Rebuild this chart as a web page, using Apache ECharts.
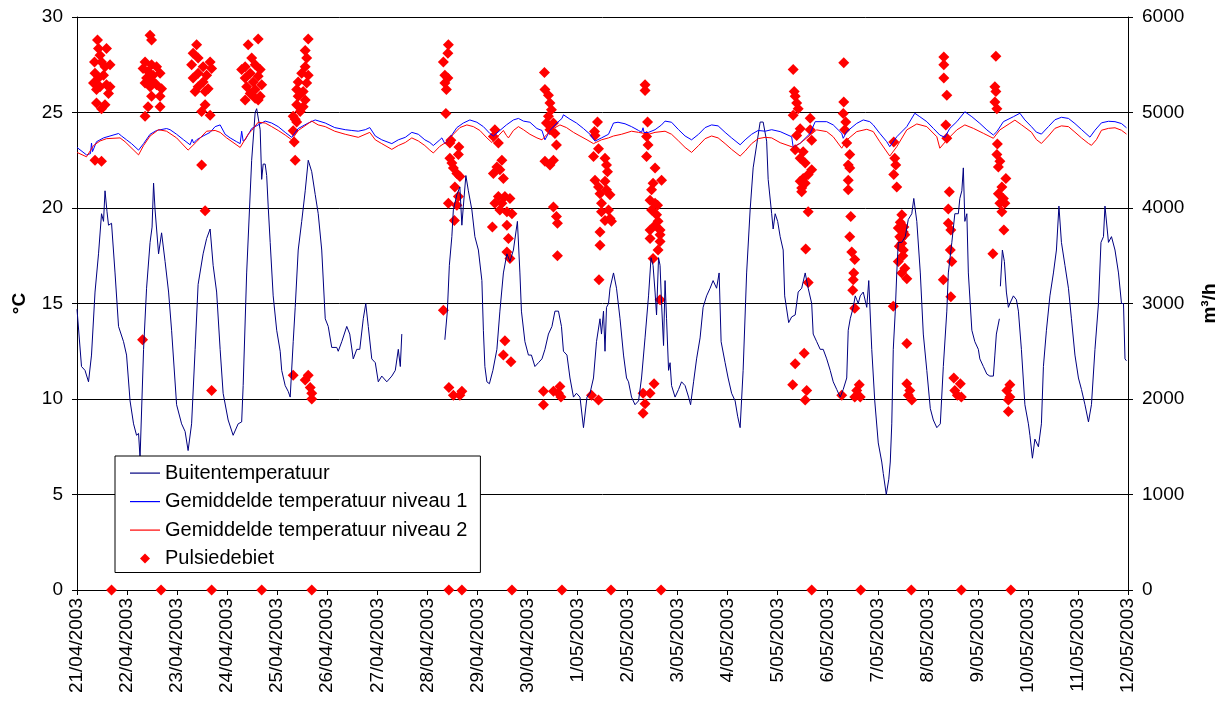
<!DOCTYPE html>
<html>
<head>
<meta charset="utf-8">
<script src="https://cdn.jsdelivr.net/npm/echarts@6/dist/echarts.min.js"></script>
<style>
html,body{margin:0;padding:0;background:#fff;}
#chart{width:1229px;height:709px;}
</style>
</head>
<body>
<div id="chart"></div>
<script>
// x values are days since 21/04/2003 00:00
const tickLabels = ["21/04/2003","22/04/2003","23/04/2003","24/04/2003","25/04/2003","26/04/2003","27/04/2003","28/04/2003","29/04/2003","30/04/2003","1/05/2003","2/05/2003","3/05/2003","4/05/2003","5/05/2003","6/05/2003","7/05/2003","8/05/2003","9/05/2003","10/05/2003","11/05/2003","12/05/2003"];

const seriesNames = ["Buitentemperatuur","Gemiddelde temperatuur niveau 1","Gemiddelde temperatuur niveau 2","Pulsiedebiet"];
const seriesColors = ["#000080","#0000FF","#FF0000","#FF0000"];

const outdoorTemp = [[0,14.7],[0.09,11.7],[0.16,11.5],[0.23,10.9],[0.29,12.3],[0.36,15.6],[0.43,17.6],[0.49,19.7],[0.53,19.3],[0.56,20.9],[0.60,19.8],[0.63,19.1],[0.69,19.2],[0.76,16.6],[0.83,13.8],[0.93,13.0],[0.99,12.3],[1.06,9.9],[1.13,8.7],[1.19,8.1],[1.23,8.2],[1.26,6.9],[1.33,12.6],[1.39,15.8],[1.46,18.2],[1.50,19.0],[1.53,21.3],[1.56,19.9],[1.63,17.6],[1.69,18.7],[1.76,17.2],[1.83,15.6],[1.89,13.6],[1.99,9.7],[2.09,8.7],[2.16,8.3],[2.22,7.3],[2.29,8.7],[2.36,12.6],[2.42,16.0],[2.52,17.6],[2.59,18.4],[2.66,18.9],[2.72,17.0],[2.79,15.6],[2.86,12.6],[2.92,10.3],[3.02,8.9],[3.12,8.1],[3.22,8.7],[3.29,8.8],[3.32,10.7],[3.39,16.6],[3.49,22.5],[3.56,25.0],[3.59,25.2],[3.66,24.1],[3.69,21.5],[3.72,22.3],[3.76,22.3],[3.79,21.7],[3.82,20.1],[3.86,18.2],[3.92,15.4],[3.99,13.6],[4.06,12.5],[4.09,11.5],[4.16,10.7],[4.22,10.4],[4.26,10.1],[4.32,13.0],[4.36,14.8],[4.42,17.8],[4.49,19.3],[4.56,20.9],[4.62,22.5],[4.69,21.9],[4.76,20.7],[4.82,19.7],[4.89,17.8],[4.96,14.2],[5.02,13.8],[5.09,12.7],[5.19,12.7],[5.22,12.5],[5.29,13.0],[5.39,13.8],[5.45,13.4],[5.52,12.1],[5.59,12.6],[5.65,12.6],[5.72,14.2],[5.77,15.0],[5.82,13.8],[5.89,12.1],[5.96,11.9],[6.02,10.9],[6.09,11.2],[6.19,10.9],[6.29,11.2],[6.36,11.5],[6.42,12.6],[6.46,11.7],[6.49,13.4],[6.9,'-'],[7.35,13.1],[7.40,14.6],[7.44,17.0],[7.49,18.5],[7.52,19.9],[7.59,20.7],[7.65,21.1],[7.69,19.1],[7.72,20.1],[7.77,21.7],[7.82,20.9],[7.89,19.9],[7.95,18.5],[8.02,17.8],[8.09,16.2],[8.12,13.6],[8.15,11.7],[8.19,10.9],[8.24,10.8],[8.31,11.5],[8.39,12.6],[8.45,14.6],[8.52,16.6],[8.59,17.6],[8.65,17.2],[8.72,17.8],[8.80,19.3],[8.85,16.6],[8.88,14.6],[8.95,13.0],[9.02,12.3],[9.08,12.3],[9.15,11.7],[9.22,11.9],[9.29,12.1],[9.35,12.6],[9.42,13.4],[9.49,13.8],[9.55,14.6],[9.62,14.6],[9.68,13.8],[9.72,12.5],[9.79,12.3],[9.85,11.1],[9.92,10.1],[9.98,10.3],[10.05,10.1],[10.12,8.5],[10.19,10.1],[10.25,10.3],[10.32,11.1],[10.38,13.0],[10.45,14.2],[10.48,13.4],[10.52,14.6],[10.55,12.5],[10.58,14.8],[10.62,15.0],[10.65,15.8],[10.72,16.6],[10.78,15.8],[10.85,14.2],[10.92,12.3],[10.98,11.1],[11.02,10.9],[11.08,10.1],[11.15,9.7],[11.22,9.9],[11.28,11.1],[11.35,13.2],[11.42,15.4],[11.47,17.4],[11.51,17.0],[11.55,15.6],[11.58,14.4],[11.62,17.4],[11.65,17.0],[11.68,15.0],[11.72,12.8],[11.75,16.2],[11.78,14.2],[11.82,11.5],[11.85,11.9],[11.88,10.7],[11.95,10.1],[12.02,10.5],[12.08,10.9],[12.15,10.7],[12.22,10.1],[12.26,9.7],[12.32,10.9],[12.38,12.1],[12.45,13.2],[12.51,14.8],[12.58,15.4],[12.65,15.8],[12.71,16.2],[12.78,15.8],[12.83,16.6],[12.87,13.0],[12.95,11.9],[13.01,11.1],[13.08,10.3],[13.15,9.9],[13.20,9.1],[13.25,8.5],[13.31,11.5],[13.38,16.6],[13.45,19.9],[13.51,22.1],[13.58,23.3],[13.65,24.5],[13.71,24.5],[13.78,23.5],[13.81,21.5],[13.88,19.7],[13.91,18.9],[13.95,19.7],[14.00,19.3],[14.05,18.5],[14.11,17.8],[14.14,15.4],[14.22,14.0],[14.28,14.3],[14.35,14.4],[14.41,15.6],[14.48,15.8],[14.55,16.6],[14.61,15.8],[14.68,15.0],[14.71,13.4],[14.78,13.0],[14.85,12.6],[14.91,12.6],[14.98,12.1],[15.05,11.5],[15.11,10.9],[15.18,10.5],[15.25,10.1],[15.31,10.5],[15.38,11.1],[15.41,13.6],[15.45,14.2],[15.51,14.8],[15.55,15.4],[15.58,15.2],[15.61,15.0],[15.65,15.4],[15.71,15.6],[15.78,14.8],[15.82,16.2],[15.88,12.6],[15.94,9.9],[16.01,7.7],[16.08,6.7],[16.11,6.1],[16.17,5.0],[16.22,5.8],[16.25,6.7],[16.28,8.7],[16.31,12.6],[16.35,14.6],[16.38,16.6],[16.41,18.2],[16.48,18.2],[16.55,18.5],[16.61,19.4],[16.68,19.7],[16.72,20.5],[16.78,19.3],[16.85,16.6],[16.91,13.4],[16.98,11.5],[17.05,9.5],[17.11,8.9],[17.18,8.5],[17.25,8.7],[17.31,11.7],[17.38,14.6],[17.41,16.6],[17.48,18.2],[17.54,19.7],[17.61,19.7],[17.64,20.5],[17.68,20.9],[17.71,22.1],[17.74,19.3],[17.78,19.7],[17.81,16.6],[17.88,13.6],[17.94,13.0],[18.01,12.6],[18.04,12.1],[18.11,11.7],[18.18,11.3],[18.24,11.2],[18.31,11.2],[18.34,12.3],[18.37,13.4],[18.43,14.2],[18.44,'-'],[18.45,15.9],[18.49,17.8],[18.53,17.2],[18.57,15.6],[18.61,14.8],[18.64,15.0],[18.71,15.4],[18.77,15.2],[18.81,14.6],[18.87,12.6],[18.94,9.7],[19.01,8.7],[19.04,8.1],[19.09,6.9],[19.14,7.9],[19.21,7.5],[19.27,8.7],[19.31,11.7],[19.37,13.6],[19.44,15.4],[19.51,16.6],[19.57,17.8],[19.62,20.1],[19.67,18.2],[19.74,17.0],[19.81,15.8],[19.87,14.2],[19.94,12.3],[20.01,11.1],[20.07,10.5],[20.14,9.7],[20.21,8.8],[20.27,9.7],[20.34,12.6],[20.41,15.0],[20.46,18.2],[20.51,18.5],[20.54,20.1],[20.61,18.2],[20.67,18.5],[20.74,17.8],[20.81,16.6],[20.87,15.0],[20.91,15.0],[20.94,12.1],[20.97,12.0]];

const level1Temp = [[0,23.17],[0.19,22.78],[0.27,22.85],[0.29,23.4],[0.31,22.95],[0.39,23.47],[0.53,23.67],[0.66,23.77],[0.83,23.9],[0.89,23.77],[0.99,23.57],[1.09,23.37],[1.23,23.03],[1.33,23.37],[1.46,23.86],[1.59,24.06],[1.79,24.16],[1.86,24.1],[1.99,23.86],[2.13,23.57],[2.26,23.31],[2.30,23.6],[2.33,23.4],[2.39,23.57],[2.52,23.77],[2.66,23.96],[2.76,24.26],[2.86,24.35],[2.96,23.86],[3.06,23.67],[3.19,23.47],[3.26,23.37],[3.29,24.02],[3.32,23.5],[3.36,23.57],[3.49,24.16],[3.62,24.35],[3.76,24.55],[3.89,24.45],[4.02,24.26],[4.16,23.96],[4.29,23.7],[4.42,24.16],[4.62,24.45],[4.76,24.61],[4.96,24.45],[5.15,24.21],[5.36,24.1],[5.49,24.06],[5.62,24.02],[5.76,24.1],[5.85,24.21],[5.96,23.77],[6.09,23.57],[6.29,23.37],[6.42,23.57],[6.56,23.7],[6.69,23.96],[6.82,23.86],[6.95,23.57],[7.05,23.43],[7.12,23.27],[7.25,23.57],[7.29,23.67],[7.35,23.37],[7.45,23.67],[7.59,24.21],[7.72,24.45],[7.85,24.61],[7.99,24.49],[8.12,24.26],[8.25,23.9],[8.32,23.77],[8.45,24.06],[8.58,24.35],[8.72,24.61],[8.82,24.69],[8.92,24.55],[9.05,24.49],[9.19,24.16],[9.29,24.06],[9.35,23.57],[9.45,24.06],[9.59,24.45],[9.69,24.69],[9.72,24.88],[9.85,24.65],[9.98,24.45],[10.12,24.16],[10.25,23.86],[10.35,23.5],[10.48,23.67],[10.62,23.86],[10.72,24.45],[10.81,24.49],[10.95,24.41],[11.08,24.26],[11.22,24.06],[11.28,23.96],[11.31,24.2],[11.33,23.95],[11.42,23.96],[11.55,24.1],[11.68,24.35],[11.75,24.55],[11.88,24.49],[12.02,24.1],[12.15,23.77],[12.28,23.57],[12.42,23.86],[12.55,24.21],[12.68,24.35],[12.81,24.3],[12.95,23.96],[13.08,23.67],[13.25,23.31],[13.35,23.57],[13.48,23.86],[13.61,24.06],[13.75,24.02],[13.88,24.1],[14.05,24.0],[14.28,23.73],[14.31,23.18],[14.45,23.39],[14.65,23.91],[14.75,24.52],[14.98,24.52],[15.11,24.35],[15.21,24.09],[15.28,23.91],[15.31,23.65],[15.38,24.0],[15.58,24.43],[15.71,24.61],[15.84,24.52],[15.91,24.35],[16.04,23.91],[16.18,23.47],[16.24,23.21],[16.38,23.73],[16.58,24.26],[16.74,24.96],[16.84,24.78],[16.98,24.52],[17.11,24.17],[17.24,23.82],[17.34,23.7],[17.44,24.17],[17.58,24.52],[17.74,25.04],[17.88,24.78],[18.04,24.43],[18.18,24.09],[18.31,23.82],[18.38,24.0],[18.51,24.52],[18.71,24.78],[18.84,24.96],[18.94,24.61],[19.07,24.26],[19.17,23.97],[19.27,23.87],[19.41,24.26],[19.54,24.62],[19.67,24.75],[19.81,24.69],[19.94,24.42],[20.07,24.11],[20.24,23.71],[20.34,24.07],[20.47,24.46],[20.61,24.54],[20.74,24.52],[20.87,24.42],[20.97,24.2]];

const level2Temp = [[0,22.91],[0.19,22.68],[0.33,23.27],[0.46,23.51],[0.59,23.63],[0.86,23.67],[0.96,23.47],[1.23,22.78],[1.33,23.27],[1.46,23.77],[1.63,24.1],[1.79,24.02],[1.99,23.67],[2.22,23.03],[2.39,23.47],[2.59,24.02],[2.76,24.06],[2.86,23.96],[2.99,23.67],[3.26,23.17],[3.42,23.86],[3.49,24.06],[3.62,24.49],[3.76,24.45],[3.89,24.26],[4.02,24.06],[4.16,23.82],[4.29,23.57],[4.42,24.06],[4.69,24.55],[4.82,24.35],[4.96,24.26],[5.15,24.02],[5.36,23.86],[5.62,23.7],[5.85,23.96],[5.96,23.57],[6.09,23.37],[6.29,23.07],[6.42,23.27],[6.56,23.43],[6.69,23.67],[6.82,23.51],[6.95,23.27],[7.05,23.03],[7.12,22.88],[7.25,23.23],[7.39,23.47],[7.52,23.86],[7.65,24.21],[7.79,24.35],[7.92,24.26],[8.05,24.06],[8.19,23.67],[8.29,23.43],[8.39,23.7],[8.52,24.06],[8.58,23.8],[8.62,23.67],[8.72,24.06],[8.82,24.26],[8.92,24.1],[9.05,23.86],[9.19,23.67],[9.29,23.57],[9.39,23.86],[9.52,24.16],[9.65,24.35],[9.78,24.21],[9.92,23.96],[10.05,23.77],[10.19,23.57],[10.32,23.37],[10.48,23.57],[10.62,23.67],[10.72,23.77],[10.88,23.86],[11.08,24.02],[11.22,23.96],[11.42,23.86],[11.55,23.96],[11.75,24.02],[11.88,23.86],[12.02,23.51],[12.15,23.17],[12.28,22.91],[12.42,23.27],[12.55,23.63],[12.68,23.77],[12.81,23.67],[12.95,23.37],[13.08,23.07],[13.25,22.72],[13.35,22.98],[13.48,23.37],[13.61,23.63],[13.75,23.7],[13.88,23.67],[14.05,23.42],[14.31,23.18],[14.45,23.39],[14.65,23.82],[14.78,24.09],[14.98,24.0],[15.11,23.73],[15.28,23.13],[15.38,23.56],[15.58,24.0],[15.78,24.12],[15.91,24.0],[16.04,23.47],[16.24,22.72],[16.38,23.21],[16.58,24.09],[16.78,24.4],[16.98,24.26],[17.18,23.73],[17.24,23.13],[17.38,23.56],[17.58,24.09],[17.74,24.35],[17.91,24.17],[18.11,23.91],[18.31,23.65],[18.44,24.09],[18.64,24.43],[18.74,24.6],[18.87,24.36],[19.07,23.97],[19.17,23.58],[19.27,23.38],[19.41,23.77],[19.54,24.17],[19.67,24.3],[19.81,24.26],[19.94,23.97],[20.07,23.67],[20.21,23.38],[20.27,23.28],[20.37,23.58],[20.47,24.07],[20.61,24.17],[20.74,24.2],[20.87,24.07],[20.97,23.87]];

const pulsieFlow = [
[0.41,5760],[0.43,5670],[0.59,5670],[0.46,5600],[0.35,5530],[0.49,5530],[0.66,5500],[0.56,5480],[0.36,5410],[0.53,5390],[0.43,5360],[0.33,5310],[0.59,5290],[0.46,5270],[0.66,5270],[0.39,5240],[0.63,5200],[0.39,5100],[0.49,5040],[0.56,5080],[0.36,4500],[0.49,4490],[0.69,0],
[1.46,5810],[1.49,5760],[1.36,5530],[1.49,5500],[1.59,5480],[1.32,5460],[1.42,5430],[1.66,5410],[1.52,5390],[1.39,5360],[1.49,5340],[1.36,5310],[1.59,5290],[1.46,5270],[1.69,5250],[1.49,5170],[1.66,5170],[1.42,5060],[1.66,5060],[1.36,4960],[1.31,2620],[1.68,0],
[2.39,5710],[2.32,5620],[2.42,5570],[2.66,5530],[2.29,5500],[2.52,5480],[2.69,5460],[2.42,5410],[2.59,5390],[2.32,5360],[2.52,5320],[2.42,5270],[2.62,5250],[2.36,5220],[2.56,5220],[2.56,5080],[2.49,5010],[2.66,4970],[2.49,4450],[2.56,3970],[2.69,2090],[2.69,0],
[3.42,5710],[3.62,5770],[3.49,5570],[3.36,5480],[3.56,5500],[3.66,5450],[3.29,5450],[3.46,5410],[3.62,5380],[3.36,5360],[3.52,5320],[3.69,5290],[3.39,5270],[3.56,5240],[3.46,5200],[3.66,5170],[3.36,5130],[3.62,5130],[3.56,5150],[3.69,0],
[4.62,5770],[4.56,5650],[4.59,5570],[4.56,5480],[4.49,5410],[4.62,5390],[4.42,5320],[4.59,5310],[4.39,5240],[4.52,5220],[4.42,5170],[4.56,5130],[4.39,5080],[4.52,5060],[4.46,5010],[4.32,4960],[4.39,4900],[4.36,4930],[4.32,4810],[4.34,4690],[4.36,4500],[4.32,2250],[4.56,2200],[4.66,2120],[4.69,2060],[4.69,2000],[4.62,2250],[4.69,0],
[7.42,5710],[7.41,5620],[7.32,5530],[7.35,5390],[7.41,5360],[7.35,5310],[7.38,5240],[7.37,4990],[7.47,4710],[7.63,4640],[7.45,4680],[7.62,4560],[7.45,4520],[7.49,4470],[7.52,4420],[7.59,4360],[7.65,4330],[7.55,4220],[7.42,4050],[7.62,4120],[7.59,4030],[7.54,3870],[7.32,2930],[7.43,2120],[7.52,2040],[7.69,2080],[7.65,2040],[7.43,0],[7.69,0],
[8.35,4820],[8.32,4750],[8.42,4680],[8.49,4500],[8.39,4430],[8.32,4360],[8.45,4400],[8.52,4310],[8.42,4120],[8.55,4120],[8.35,4050],[8.49,4050],[8.65,4100],[8.45,3980],[8.59,3960],[8.69,3940],[8.59,3820],[8.30,3800],[8.62,3680],[8.59,3540],[8.65,3470],[8.55,2610],[8.52,2460],[8.67,2390],[8.69,0],
[9.34,5420],[9.35,5240],[9.42,5180],[9.45,5100],[9.48,5030],[9.42,4960],[9.38,4890],[9.52,4890],[9.45,4820],[9.55,4780],[9.58,4660],[9.35,4490],[9.52,4500],[9.45,4450],[9.52,4010],[9.58,3910],[9.60,3840],[9.60,3500],[9.32,2080],[9.32,1940],[9.52,2080],[9.65,2130],[9.67,2020],[9.62,2060],[9.69,0],
[10.40,4900],[10.34,4800],[10.35,4760],[10.42,4620],[10.32,4540],[10.55,4520],[10.58,4450],[10.60,4380],[10.35,4290],[10.55,4280],[10.42,4220],[10.58,4190],[10.45,4150],[10.65,4140],[10.48,4050],[10.62,3980],[10.48,3960],[10.65,3890],[10.55,3870],[10.68,3860],[10.45,3750],[10.45,3610],[10.43,3250],[10.28,2040],[10.42,1990],[10.67,0],
[11.35,5290],[11.35,5230],[11.40,4900],[11.38,4750],[11.41,4660],[11.38,4540],[11.55,4420],[11.68,4290],[11.51,4260],[11.48,4190],[11.45,4080],[11.55,4050],[11.60,4030],[11.48,3980],[11.58,3930],[11.61,3860],[11.55,3820],[11.65,3770],[11.45,3770],[11.45,3680],[11.65,3720],[11.65,3650],[11.61,3560],[11.51,3470],[11.65,3040],[11.53,2160],[11.31,2060],[11.45,2060],[11.35,1950],[11.31,1850],[11.67,0],
[14.31,5450],[14.33,5220],[14.35,5170],[14.38,5100],[14.41,5040],[14.31,4970],[14.45,4830],[14.65,4940],[14.65,4820],[14.38,4760],[14.68,4710],[14.35,4610],[14.51,4590],[14.45,4520],[14.55,4470],[14.68,4400],[14.51,4310],[14.61,4350],[14.45,4280],[14.55,4260],[14.48,4210],[14.48,4170],[14.61,3960],[14.56,3570],[14.61,3220],[14.53,2480],[14.35,2370],[14.30,2150],[14.58,2090],[14.55,1990],[14.68,0],
[15.32,5520],[15.32,5110],[15.31,4990],[15.36,4900],[15.34,4820],[15.38,4680],[15.44,4560],[15.41,4450],[15.44,4420],[15.41,4290],[15.41,4190],[15.46,3910],[15.44,3700],[15.48,3540],[15.54,3460],[15.52,3320],[15.51,3250],[15.50,3140],[15.54,2950],[15.63,2150],[15.58,2090],[15.65,2020],[15.54,2020],[15.28,2040],[15.66,0],
[16.32,4690],[16.34,4520],[16.36,4450],[16.32,4350],[16.38,4220],[16.48,3930],[16.41,3790],[16.51,3750],[16.44,3700],[16.54,3720],[16.48,3630],[16.51,3560],[16.41,3440],[16.54,3370],[16.48,3320],[16.58,3260],[16.31,2970],[16.58,2580],[16.58,2160],[16.64,2090],[16.68,1990],[16.61,2040],[16.45,3850],[16.52,3800],[16.47,3680],[16.43,3600],[16.50,3500],[16.67,0],
[17.32,5580],[17.32,5500],[17.32,5360],[17.38,5180],[17.36,4870],[17.38,4730],[17.43,4170],[17.41,3990],[17.41,3840],[17.46,3770],[17.45,3560],[17.48,3440],[17.31,3250],[17.46,3070],[17.52,2220],[17.65,2160],[17.54,2090],[17.59,2040],[17.67,2020],[17.67,0],
[18.36,5590],[18.34,5270],[18.36,5220],[18.34,5110],[18.38,5040],[18.39,4670],[18.38,4560],[18.44,4490],[18.41,4430],[18.56,4310],[18.48,4220],[18.41,4150],[18.51,4100],[18.44,4050],[18.54,4050],[18.48,3960],[18.52,3770],[18.30,3520],[18.64,2150],[18.58,2090],[18.64,2020],[18.61,1990],[18.61,1870],[18.66,0]
];

const FONT = '"Liberation Sans", Arial, sans-serif';
// legend icons: a thin horizontal line and a small diamond inside a 30x11 box
const LINE_ICON = 'path://M0,0M30,11M0,5L30,5L30,6.2L0,6.2Z';
const DIAMOND_ICON = 'path://M0,0M30,11M15,0.5L20,5.5L15,10.5L10,5.5Z';

const chart = echarts.init(document.getElementById('chart'), null, {renderer: 'canvas'});
chart.setOption({
  animation: false,
  backgroundColor: '#ffffff',
  textStyle: {fontFamily: FONT, color: '#000'},
  grid: {left: 77, right: 101, top: 17, bottom: 119, containLabel: false},
  legend: {
    orient: 'vertical', left: 115, top: 456,
    backgroundColor: '#ffffff', borderColor: '#000', borderWidth: 1,
    padding: [7, 13, 4, 15], itemGap: 8.5, itemWidth: 30, itemHeight: 11,
    symbolKeepAspect: false,
    textStyle: {fontFamily: FONT, fontSize: 20, color: '#000'},
    data: [
      {name: seriesNames[0], icon: LINE_ICON, itemStyle: {color: seriesColors[0]}},
      {name: seriesNames[1], icon: LINE_ICON, itemStyle: {color: seriesColors[1]}},
      {name: seriesNames[2], icon: LINE_ICON, itemStyle: {color: seriesColors[2]}},
      {name: seriesNames[3], icon: DIAMOND_ICON, itemStyle: {color: seriesColors[3]}}
    ]
  },
  xAxis: {
    type: 'value', min: 0, max: 21, interval: 1,
    axisLine: {show: true, onZero: false, lineStyle: {color: '#000', width: 1}},
    axisTick: {show: true, length: 5, lineStyle: {color: '#000'}},
    splitLine: {show: false},
    axisLabel: {rotate: 90, margin: 8, fontSize: 19, color: '#000', fontFamily: FONT,
      formatter: v => tickLabels[Math.round(v)] || ''}
  },
  yAxis: [
    {
      type: 'value', position: 'left', min: 0, max: 30, interval: 5,
      name: '°C', nameLocation: 'middle', nameRotate: 90, nameGap: 48,
      nameTextStyle: {fontFamily: FONT, fontSize: 19, fontWeight: 'bold', color: '#000'},
      axisLine: {show: true, lineStyle: {color: '#000', width: 1}},
      axisTick: {show: true, length: 5, lineStyle: {color: '#000'}},
      axisLabel: {margin: 14, fontSize: 19, color: '#000', fontFamily: FONT, formatter: v => String(v)},
      splitLine: {show: true, lineStyle: {color: '#000', width: 1}}
    },
    {
      type: 'value', position: 'right', min: 0, max: 6000, interval: 1000,
      name: 'm³/h', nameLocation: 'middle', nameRotate: 90, nameGap: 72,
      nameTextStyle: {fontFamily: FONT, fontSize: 19, fontWeight: 'bold', color: '#000'},
      axisLine: {show: true, lineStyle: {color: '#000', width: 1}},
      axisTick: {show: true, length: 5, lineStyle: {color: '#000'}},
      axisLabel: {margin: 14, fontSize: 19, color: '#000', fontFamily: FONT, formatter: v => String(v)},
      splitLine: {show: false}
    }
  ],
  series: [
    {name: seriesNames[0], type: 'line', yAxisIndex: 0, data: outdoorTemp, symbol: 'none', connectNulls: false,
      lineStyle: {color: seriesColors[0], width: 1}, itemStyle: {color: seriesColors[0]}},
    {name: seriesNames[1], type: 'line', yAxisIndex: 0, data: level1Temp, symbol: 'none',
      lineStyle: {color: seriesColors[1], width: 1}, itemStyle: {color: seriesColors[1]}},
    {name: seriesNames[2], type: 'line', yAxisIndex: 0, data: level2Temp, symbol: 'none',
      lineStyle: {color: seriesColors[2], width: 1}, itemStyle: {color: seriesColors[2]}},
    {name: seriesNames[3], type: 'scatter', yAxisIndex: 1, data: pulsieFlow, symbol: 'diamond', symbolSize: 11,
      itemStyle: {color: seriesColors[3], opacity: 1}}
  ]
});
</script>
</body>
</html>
